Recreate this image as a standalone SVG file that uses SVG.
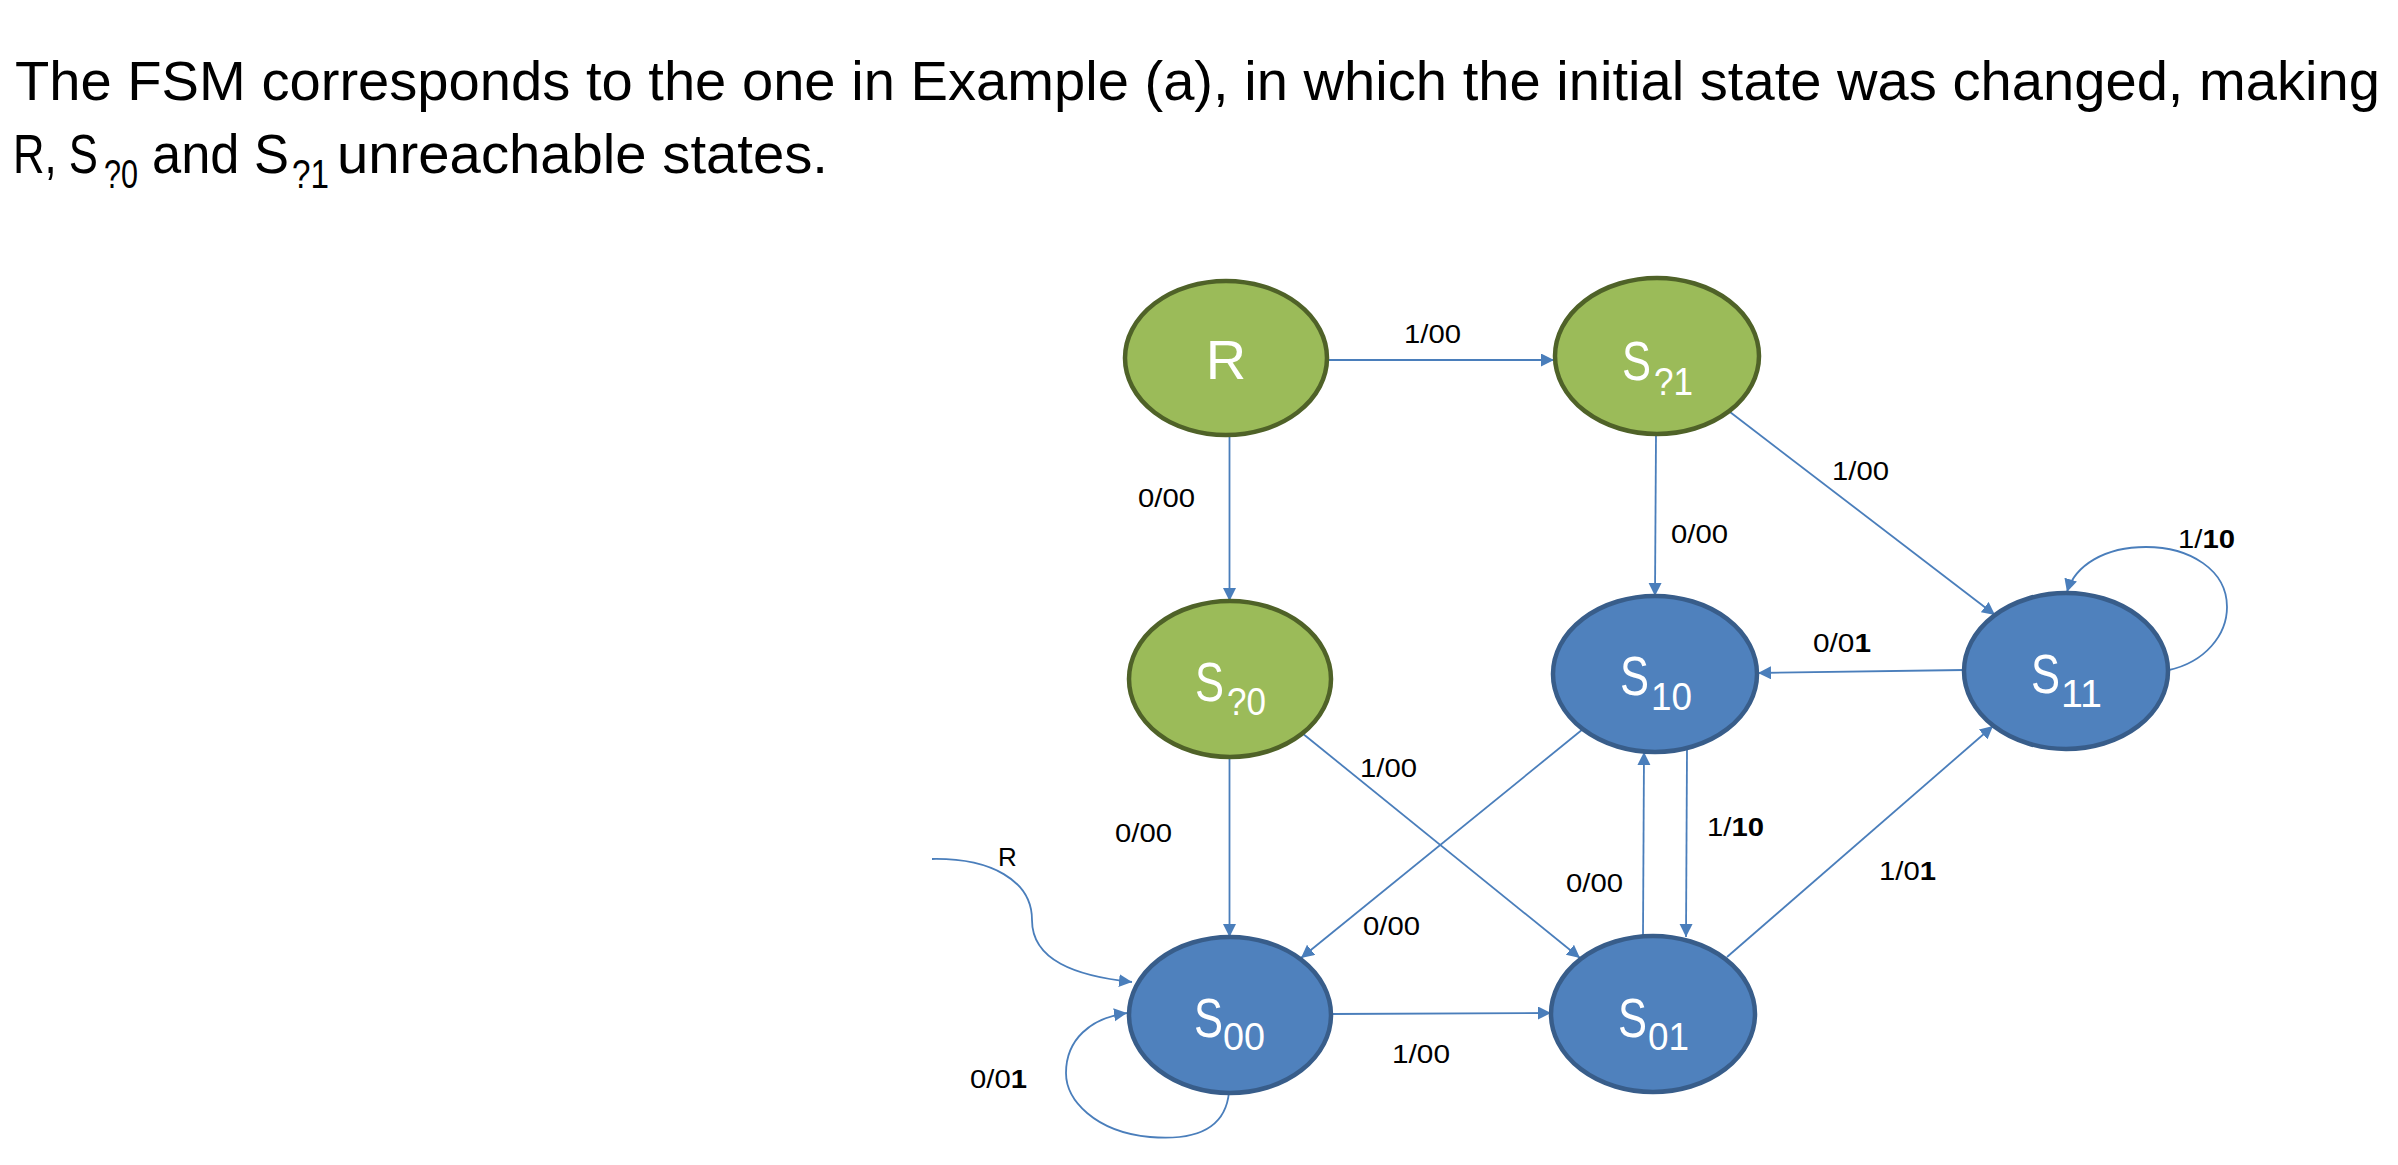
<svg xmlns="http://www.w3.org/2000/svg" width="2398" height="1165" viewBox="0 0 2398 1165">
<style>
.title{font-family:"Liberation Sans",Arial,sans-serif;font-size:56px;fill:#000}
.tsub{font-size:40px}
.green{fill:#9BBB59;stroke:#4F6228;stroke-width:4.5}
.blue{fill:#4F81BD;stroke:#385D8A;stroke-width:4.5}
.nl{font-family:"Liberation Sans",Arial,sans-serif;font-size:56px;fill:#fff}
.ns{font-size:38px}
.edge{fill:none;stroke:#4A7EBB;stroke-width:1.8;marker-end:url(#arr)}
.lbl{font-family:"Liberation Sans",Arial,sans-serif;font-size:26px;fill:#000}
.b{font-weight:bold}
</style>
<defs>
<marker id="arr" markerUnits="userSpaceOnUse" markerWidth="14" markerHeight="14" refX="13" refY="6.5" orient="auto">
<path d="M0,0 L13,6.5 L0,13 z" fill="#4A7EBB"/>
</marker>
</defs>

<g id="title">
<text class="title" x="15" y="100" textLength="2365" lengthAdjust="spacingAndGlyphs">The FSM corresponds to the one in Example (a), in which the initial state was changed, making</text>
<text class="title" x="13" y="173"><tspan textLength="85" lengthAdjust="spacingAndGlyphs">R, S</tspan><tspan class="tsub" x="104" dy="15" textLength="34" lengthAdjust="spacingAndGlyphs">?0</tspan><tspan x="152" dy="-15" textLength="137" lengthAdjust="spacingAndGlyphs">and S</tspan><tspan class="tsub" x="292" dy="15" textLength="37" lengthAdjust="spacingAndGlyphs">?1</tspan><tspan x="337" dy="-15" textLength="491" lengthAdjust="spacingAndGlyphs">unreachable states.</tspan></text>
</g>

<g id="connectors">
<line class="edge" x1="1328" y1="360" x2="1554" y2="360"/>
<line class="edge" x1="1229.5" y1="436" x2="1229.5" y2="601"/>
<line class="edge" x1="1656" y1="434" x2="1655" y2="596"/>
<line class="edge" x1="1730" y1="412" x2="1995" y2="615"/>
<path class="edge" d="M2169,670 C2205,662 2227,635 2227,607 C2227,570 2190,547 2146,547 C2105,547 2075,565 2067,592"/>
<line class="edge" x1="1964" y1="670" x2="1758" y2="673"/>
<line class="edge" x1="1229.5" y1="757" x2="1229.5" y2="937"/>
<line class="edge" x1="1302" y1="733" x2="1580" y2="958"/>
<line class="edge" x1="1583" y1="729" x2="1301" y2="958"/>
<line class="edge" x1="1643" y1="936" x2="1644" y2="752"/>
<line class="edge" x1="1687" y1="750" x2="1686" y2="937"/>
<line class="edge" x1="1727" y1="957" x2="1993" y2="726"/>
<line class="edge" x1="1331" y1="1014" x2="1551" y2="1013"/>
<path class="edge" d="M1229,1092 C1225,1135 1185,1140 1150,1137 C1095,1132 1066,1100 1066,1073 C1066,1040 1090,1018 1127,1013"/>
<path class="edge" d="M932,859 C990,858 1032,880 1032,920 C1032,960 1075,976 1132,982"/>

<text class="lbl" x="1404" y="343" textLength="57" lengthAdjust="spacingAndGlyphs">1/00</text>
<text class="lbl" x="1138" y="507" textLength="57" lengthAdjust="spacingAndGlyphs">0/00</text>
<text class="lbl" x="1671" y="543" textLength="57" lengthAdjust="spacingAndGlyphs">0/00</text>
<text class="lbl" x="1832" y="480" textLength="57" lengthAdjust="spacingAndGlyphs">1/00</text>
<text class="lbl" x="2178" y="548" textLength="57" lengthAdjust="spacingAndGlyphs">1/<tspan class="b">10</tspan></text>
<text class="lbl" x="1813" y="652" textLength="58" lengthAdjust="spacingAndGlyphs">0/0<tspan class="b">1</tspan></text>
<text class="lbl" x="1115" y="842" textLength="57" lengthAdjust="spacingAndGlyphs">0/00</text>
<text class="lbl" x="1360" y="777" textLength="57" lengthAdjust="spacingAndGlyphs">1/00</text>
<text class="lbl" x="1363" y="935" textLength="57" lengthAdjust="spacingAndGlyphs">0/00</text>
<text class="lbl" x="1566" y="892" textLength="57" lengthAdjust="spacingAndGlyphs">0/00</text>
<text class="lbl" x="1707" y="836" textLength="57" lengthAdjust="spacingAndGlyphs">1/<tspan class="b">10</tspan></text>
<text class="lbl" x="1879" y="880" textLength="57" lengthAdjust="spacingAndGlyphs">1/0<tspan class="b">1</tspan></text>
<text class="lbl" x="1392" y="1063" textLength="58" lengthAdjust="spacingAndGlyphs">1/00</text>
<text class="lbl" x="970" y="1088" textLength="57" lengthAdjust="spacingAndGlyphs">0/0<tspan class="b">1</tspan></text>
<text class="lbl" x="998" y="866">R</text>
</g>

<g id="node-R">
<ellipse class="green" cx="1226" cy="358" rx="101" ry="77"/>
<text class="nl" x="1226" y="379" text-anchor="middle">R</text>
</g>
<g id="node-S?1">
<ellipse class="green" cx="1657" cy="356" rx="102" ry="78"/>
<text class="nl" x="1622" y="380"><tspan textLength="29" lengthAdjust="spacingAndGlyphs">S</tspan><tspan class="ns" x="1654" dy="15" textLength="39" lengthAdjust="spacingAndGlyphs">?1</tspan></text>
</g>
<g id="node-S?0">
<ellipse class="green" cx="1230" cy="679" rx="101" ry="78"/>
<text class="nl" x="1195" y="701"><tspan textLength="29" lengthAdjust="spacingAndGlyphs">S</tspan><tspan class="ns" x="1227" dy="14" textLength="39" lengthAdjust="spacingAndGlyphs">?0</tspan></text>
</g>
<g id="node-S10">
<ellipse class="blue" cx="1655" cy="674" rx="102" ry="78"/>
<text class="nl" x="1620" y="695"><tspan textLength="29" lengthAdjust="spacingAndGlyphs">S</tspan><tspan class="ns" x="1651" dy="15" textLength="41" lengthAdjust="spacingAndGlyphs">10</tspan></text>
</g>
<g id="node-S11">
<ellipse class="blue" cx="2066" cy="671" rx="102" ry="78"/>
<text class="nl" x="2031" y="693"><tspan textLength="29" lengthAdjust="spacingAndGlyphs">S</tspan><tspan class="ns" x="2061" dy="14" textLength="41" lengthAdjust="spacingAndGlyphs">11</tspan></text>
</g>
<g id="node-S00">
<ellipse class="blue" cx="1230" cy="1015" rx="101" ry="78"/>
<text class="nl" x="1194" y="1037"><tspan textLength="29" lengthAdjust="spacingAndGlyphs">S</tspan><tspan class="ns" x="1223" dy="13" textLength="42" lengthAdjust="spacingAndGlyphs">00</tspan></text>
</g>
<g id="node-S01">
<ellipse class="blue" cx="1653" cy="1014" rx="102" ry="78"/>
<text class="nl" x="1618" y="1037"><tspan textLength="29" lengthAdjust="spacingAndGlyphs">S</tspan><tspan class="ns" x="1648" dy="13" textLength="41" lengthAdjust="spacingAndGlyphs">01</tspan></text>
</g>
</svg>
